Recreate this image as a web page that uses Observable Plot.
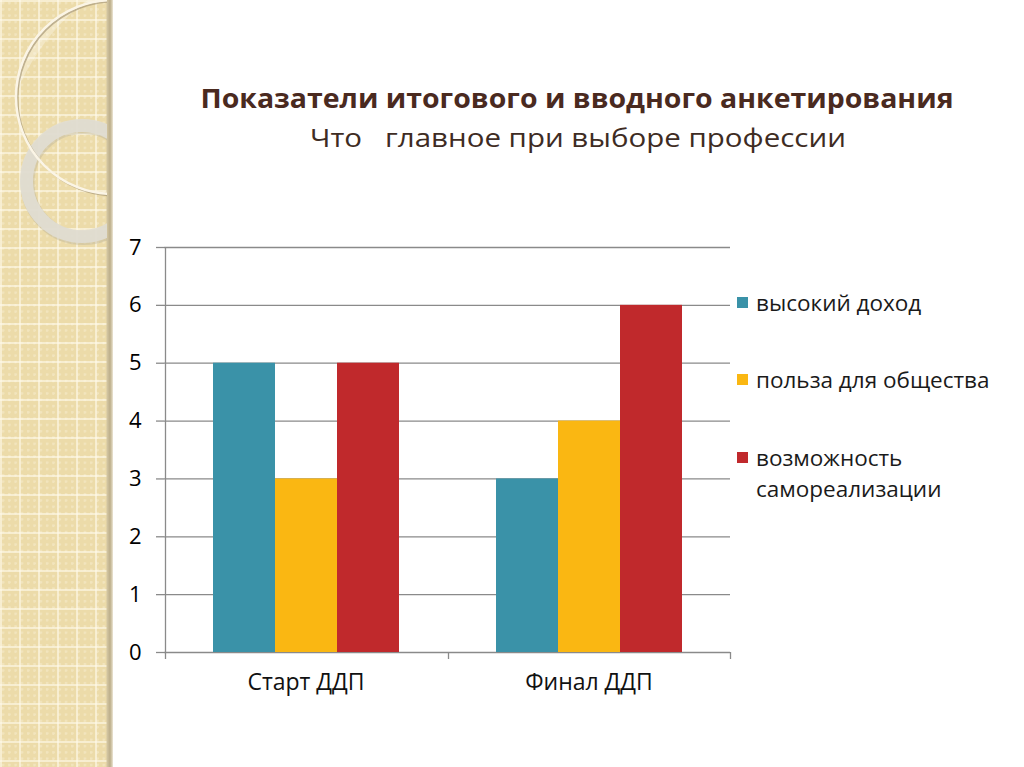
<!DOCTYPE html>
<html><head><meta charset="utf-8">
<script src="https://cdn.jsdelivr.net/npm/d3@7"></script>
<script src="https://cdn.jsdelivr.net/npm/@observablehq/plot@0.6"></script>
<style>
html,body{margin:0;padding:0;background:#fff;width:1024px;height:767px;overflow:hidden;font-family:"Open Sans",sans-serif;}
#strip{position:absolute;left:0;top:0;width:113px;height:767px;z-index:2;
 background:
  linear-gradient(to right, rgba(0,0,0,0) 106px, #d3c6a2 107px, #bcae8a 110px, #d9cfb5 112px, #eee8da 113px),
  repeating-linear-gradient(to right, rgba(255,250,235,0.6) 0 2px, rgba(0,0,0,0) 2px 19px),
  repeating-linear-gradient(to bottom, rgba(255,250,235,0.6) 0 2px, rgba(0,0,0,0) 2px 19px),
  radial-gradient(circle at 3px 3px, rgba(255,250,235,0.3) 1.2px, rgba(0,0,0,0) 1.6px) 0 0/6.3px 6.3px,
  #ecdba9;}
#strip svg{position:absolute;left:0;top:0;}
#chart{position:absolute;left:0;top:0;z-index:1;}
#overlay{position:absolute;left:0;top:0;z-index:3;pointer-events:none;}
</style></head><body>
<div id="strip">
<svg width="110" height="767">
  <defs><clipPath id="c"><rect x="0" y="0" width="107" height="767"/></clipPath></defs>
  <g clip-path="url(#c)">
    <path d="M 17 90 A 97 97 0 0 1 100 0.8 L 88 0 Q 45 30 17 90 Z" fill="#ffffff" opacity="0.3"/>
    <circle cx="82" cy="181" r="55.5" fill="none" stroke="#b3ab97" stroke-width="14" opacity="0.35" transform="translate(1,1.5)"/>
    <circle cx="82" cy="181" r="55.5" fill="none" stroke="#e1ddd3" stroke-width="13" opacity="0.92"/>
    <circle cx="113" cy="97" r="97" fill="none" stroke="#a39373" stroke-width="2" opacity="0.65" transform="translate(1.5,1.5)"/>
    <circle cx="113" cy="97" r="97" fill="none" stroke="#fbf5e6" stroke-width="2.5"/>
  </g>
</svg>
</div>
<div id="chart"></div>
<svg id="overlay" width="1024" height="767"></svg>
<script>
const categories = ["Старт ДДП", "Финал ДДП"];
const series = ["высокий доход", "польза для общества", "возможность самореализации"];
const legendLines = [["высокий доход"], ["польза для общества"], ["возможность", "самореализации"]];
const highIncome = [5, 3];
const publicBenefit = [3, 4];
const selfRealization = [5, 6];
const yTicks = [0, 1, 2, 3, 4, 5, 6, 7];
const colors = ["#3a92a8", "#fab712", "#c0292c"];
const titleText = "Показатели итогового и вводного анкетирования";
const subtitleText = "Что   главное при выборе профессии";

const seriesValues = [highIncome, publicBenefit, selfRealization];
const data = categories.flatMap((c, i) =>
  series.map((s, j) => ({category: c, series: s, value: seriesValues[j][i]})));

const W = 1024, H = 767, mL = 164, mR = 294, mT = 247, mB = 115;
const po = 0.764;
const facetW = (W - mL - mR) / categories.length;
const step = facetW / (series.length + 2 * po);
const edge = step * po + step / 2;
const gray = "#8a8a8a";

const chart = Plot.plot({
  width: W, height: H,
  marginLeft: mL, marginRight: mR, marginTop: mT, marginBottom: mB,
  style: {background: "transparent", fontFamily: "'Open Sans', sans-serif", overflow: "visible"},
  fx: {domain: categories, padding: 0, label: null},
  x: {domain: series, paddingInner: 0, paddingOuter: po, axis: null},
  y: {domain: [0, 7], axis: null},
  color: {domain: series, range: colors},
  marks: [
    Plot.ruleY(yTicks, {stroke: gray, strokeWidth: 1.3}),
    Plot.barY(data, {fx: "category", x: "series", y: "value", fill: "series"}),
    Plot.ruleX([series[0]], {fx: () => categories[0], x: d => d, y1: 0, y2: 7, dx: -edge, stroke: gray, strokeWidth: 1.3}),
    Plot.ruleX(categories, {fx: d => d, x: () => series[0], y1: 0, y2: 0, insetBottom: -7, dx: -edge, stroke: gray, strokeWidth: 1.3}),
    Plot.ruleX([categories[categories.length - 1]], {fx: d => d, x: () => series[series.length - 1], y1: 0, y2: 0, insetBottom: -7, dx: edge, stroke: gray, strokeWidth: 1.3}),
    Plot.axisY(yTicks, {tickSize: 8, tickPadding: 15, fontSize: 22, tickFormat: d => String(d), stroke: gray, strokeWidth: 1.3, fill: "#000", label: null}),
    Plot.axisFx({anchor: "bottom", tickSize: 0, tickPadding: 21, fontSize: 23, fill: "#111", label: null})
  ]
});
document.getElementById("chart").appendChild(chart);

const ov = d3.select("#overlay").style("font-family", "'Open Sans', sans-serif");
ov.append("text").attr("x", 577).attr("y", 108).attr("text-anchor", "middle")
  .attr("font-size", 26).attr("font-weight", "bold").attr("fill", "#4a2a1f")
  .attr("textLength", 753).attr("lengthAdjust", "spacingAndGlyphs").text(titleText);
ov.append("text").attr("x", 578).attr("y", 147).attr("text-anchor", "middle")
  .attr("font-size", 25).attr("fill", "#3e2c23").style("white-space", "pre")
  .attr("textLength", 536).attr("lengthAdjust", "spacingAndGlyphs").text(subtitleText);

const legendY = [303, 380, 458];
series.forEach((s, i) => {
  ov.append("rect").attr("x", 737).attr("y", legendY[i] - 6).attr("width", 11).attr("height", 11).attr("fill", colors[i]);
  legendLines[i].forEach((line, k) => {
    ov.append("text").attr("x", 756).attr("y", legendY[i] + k * 31).attr("dy", "0.36em")
      .attr("font-size", 22.5).attr("fill", "#1a1a1a").text(line);
  });
});
</script>
</body></html>
